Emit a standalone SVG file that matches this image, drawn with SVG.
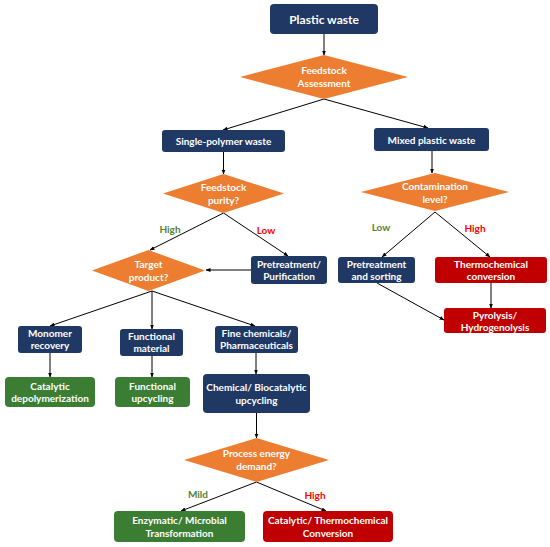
<svg xmlns="http://www.w3.org/2000/svg" width="550" height="547" viewBox="0 0 550 547">
<defs>
<marker id="ah" viewBox="0 0 10 10" refX="9" refY="5" markerWidth="5" markerHeight="5" orient="auto-start-reverse" markerUnits="userSpaceOnUse">
<path d="M0,1 L10,5 L0,9 z" fill="#000"/>
</marker>
<style>
.nv{fill:#1F3864}
.gr{fill:#3A7D33}
.rd{fill:#C00000}
.dm{fill:#ED7D31}
text{font-family:Lato,"Open Sans","Liberation Sans",sans-serif;font-weight:bold;font-size:10px;fill:#fff;text-anchor:middle}
.lh{fill:#548235;font-size:10px}
.ll{fill:#FF0000;font-size:10px}
.cn line{stroke:#000;stroke-width:1;marker-end:url(#ah)}
</style>
</defs>
<rect width="550" height="547" fill="#fff"/>
<g class="cn">
<line x1="324" y1="34" x2="324" y2="55"/>
<line x1="324" y1="99" x2="223" y2="130"/>
<line x1="324" y1="99" x2="428" y2="128"/>
<line x1="223.5" y1="152" x2="223.5" y2="174"/>
<line x1="432" y1="151" x2="432" y2="173"/>
<line x1="223.5" y1="213" x2="150" y2="250"/>
<line x1="223.5" y1="213" x2="288" y2="256"/>
<line x1="251" y1="270" x2="206" y2="270"/>
<line x1="435" y1="212" x2="382" y2="257"/>
<line x1="435" y1="212" x2="490" y2="257"/>
<line x1="491" y1="283" x2="491" y2="308"/>
<line x1="377" y1="283" x2="444" y2="320"/>
<line x1="152" y1="291" x2="50" y2="326"/>
<line x1="152" y1="291" x2="152" y2="329"/>
<line x1="152" y1="291" x2="255" y2="326"/>
<line x1="50" y1="353" x2="50" y2="377"/>
<line x1="152" y1="356" x2="152" y2="377"/>
<line x1="256" y1="353" x2="256" y2="374"/>
<line x1="256.5" y1="413" x2="256.5" y2="438"/>
<line x1="256.5" y1="482" x2="181" y2="511"/>
<line x1="256.5" y1="482" x2="326" y2="511"/>
<text class="lh" x="170" y="233">High</text>
<text class="ll" x="266" y="234">Low</text>
<text class="lh" x="381" y="231">Low</text>
<text class="ll" x="475" y="232">High</text>
<text class="lh" x="198" y="498">Mild</text>
<text class="ll" x="315" y="499">High</text>
</g>
<g id="plastic-waste"><rect class="nv" x="270" y="4" width="108" height="30" rx="4"/><text x="324" y="23.5" style="font-size:12px">Plastic waste</text></g>
<g id="feedstock-assessment"><polygon class="dm" points="240,77 324,55 408,77 324,99"/><text x="324" y="74">Feedstock</text><text x="324" y="87">Assessment</text></g>
<g id="single-polymer"><rect class="nv" x="162" y="130" width="123" height="22" rx="3"/><text x="223.5" y="145">Single-polymer waste</text></g>
<g id="mixed"><rect class="nv" x="374" y="128" width="115" height="23" rx="3"/><text x="431.5" y="143.5">Mixed plastic waste</text></g>
<g id="feedstock-purity"><polygon class="dm" points="163,193.5 223.5,174 284,193.5 223.5,213"/><text x="223.5" y="191">Feedstock</text><text x="223.5" y="204">purity?</text></g>
<g id="contamination"><polygon class="dm" points="361,192 435,173 509,192 435,211"/><text x="435" y="190">Contamination</text><text x="435" y="203">level?</text></g>
<g id="target-product"><polygon class="dm" points="92,270.5 148.5,250 205,270.5 148.5,291"/><text x="148.5" y="268">Target</text><text x="148.5" y="281">product?</text></g>
<g id="pretreat-purif"><rect class="nv" x="251" y="256" width="76" height="28" rx="3"/><text x="289" y="268">Pretreatment/</text><text x="289" y="280">Purification</text></g>
<g id="pretreat-sort"><rect class="nv" x="338" y="257" width="77" height="26" rx="3"/><text x="376.5" y="268">Pretreatment</text><text x="376.5" y="280">and sorting</text></g>
<g id="thermochemical"><rect class="rd" x="435" y="257" width="112" height="26" rx="3"/><text x="491" y="268">Thermochemical</text><text x="491" y="280">conversion</text></g>
<g id="pyrolysis"><rect class="rd" x="444" y="308" width="102" height="25" rx="3"/><text x="495" y="318.5">Pyrolysis/</text><text x="495" y="330.5">Hydrogenolysis</text></g>
<g id="monomer"><rect class="nv" x="18" y="326" width="64" height="27" rx="3"/><text x="50" y="337">Monomer</text><text x="50" y="349">recovery</text></g>
<g id="functional-material"><rect class="nv" x="120" y="329" width="63" height="27" rx="3"/><text x="151.5" y="340">Functional</text><text x="151.5" y="352">material</text></g>
<g id="fine-chem"><rect class="nv" x="215" y="326" width="83" height="27" rx="3"/><text x="256.5" y="337">Fine chemicals/</text><text x="256.5" y="349">Pharmaceuticals</text></g>
<g id="catalytic-depoly"><rect class="gr" x="5" y="377" width="90" height="30" rx="4"/><text x="50" y="389.5">Catalytic</text><text x="50" y="402">depolymerization</text></g>
<g id="functional-upcycling"><rect class="gr" x="115" y="377" width="75" height="30" rx="4"/><text x="152.5" y="389.5">Functional</text><text x="152.5" y="402">upcycling</text></g>
<g id="chem-bio"><rect class="nv" x="203" y="374" width="107" height="39" rx="4"/><text x="256.5" y="391">Chemical/ Biocatalytic</text><text x="256.5" y="403.5">upcycling</text></g>
<g id="process-energy"><polygon class="dm" points="184,460 256.5,438 329,460 256.5,482"/><text x="256.5" y="457">Process energy</text><text x="256.5" y="470">demand?</text></g>
<g id="enzymatic"><rect class="gr" x="114" y="511" width="131" height="31" rx="4"/><text x="179.5" y="524">Enzymatic/ Microbial</text><text x="179.5" y="537">Transformation</text></g>
<g id="catalytic-thermo"><rect class="rd" x="263" y="511" width="130" height="31" rx="4"/><text x="328" y="524">Catalytic/ Thermochemical</text><text x="328" y="537">Conversion</text></g>
</svg>
